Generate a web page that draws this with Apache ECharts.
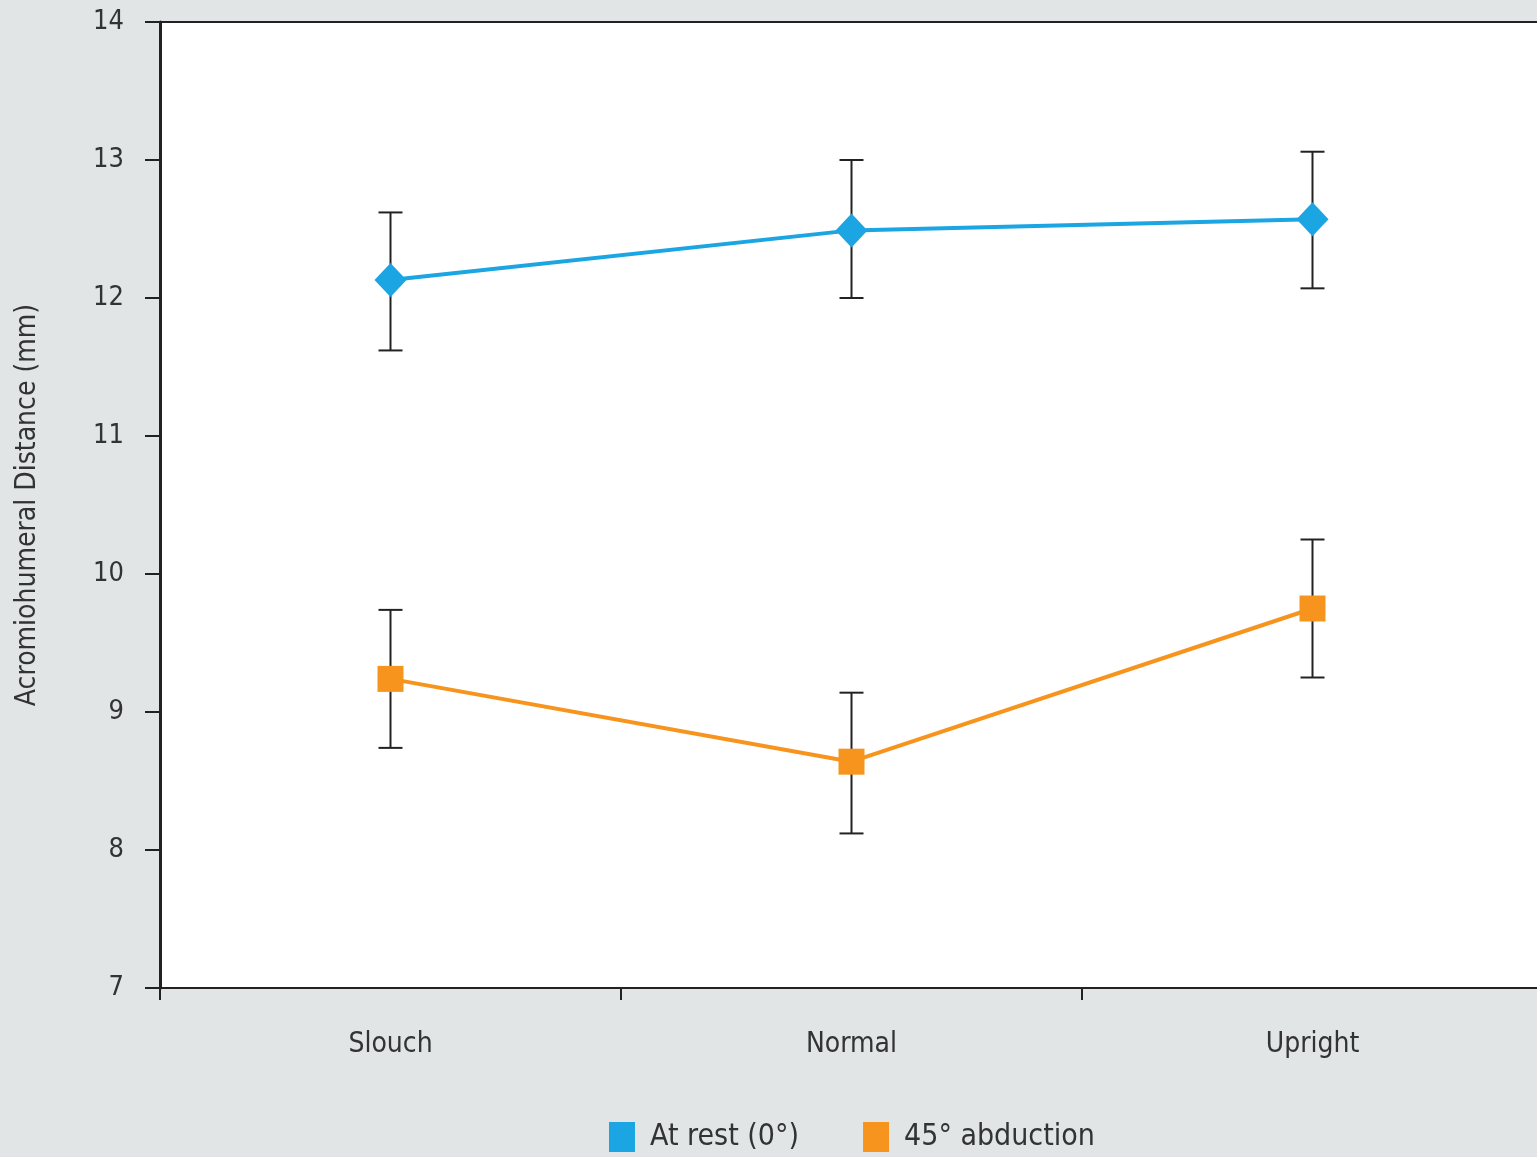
<!DOCTYPE html>
<html>
<head>
<meta charset="utf-8">
<script src="https://cdn.jsdelivr.net/npm/echarts@6/dist/echarts.min.js"></script>
<style>
html,body{margin:0;padding:0;background:#e1e5e6;}
#c{width:1537px;height:1157px;}
</style>
</head>
<body>
<div id="c"></div>
<script>
var categories = ['Slouch', 'Normal', 'Upright'];
var restMean = [12.13, 12.49, 12.57];
var restHigh = [12.62, 13.0, 13.06];
var restLow = [11.62, 12.0, 12.07];
var abdMean = [9.24, 8.64, 9.75];
var abdHigh = [9.74, 9.14, 10.25];
var abdLow = [8.74, 8.12, 9.25];
var seriesNames = ['At rest (0°)', '45° abduction'];
var yMin = 7, yMax = 14, yStep = 1;

var FONT = "'Liberation Sans Narrow','DejaVu Sans Condensed','Roboto Condensed',sans-serif";

function errData(low, high) {
  return categories.map(function (c, i) { return [i, low[i], high[i]]; });
}
function errRender(params, api) {
  var x = api.value(0);
  var lo = api.coord([x, api.value(1)]);
  var hi = api.coord([x, api.value(2)]);
  var w = 12;
  var st = { stroke: '#222', lineWidth: 2 };
  return {
    type: 'group',
    children: [
      { type: 'line', shape: { x1: lo[0], y1: lo[1], x2: hi[0], y2: hi[1] }, style: st },
      { type: 'line', shape: { x1: lo[0] - w, y1: lo[1], x2: lo[0] + w, y2: lo[1] }, style: st },
      { type: 'line', shape: { x1: hi[0] - w, y1: hi[1], x2: hi[0] + w, y2: hi[1] }, style: st }
    ]
  };
}

var chart = echarts.init(document.getElementById('c'));
chart.setOption({
  backgroundColor: '#e1e5e6',
  animation: false,
  textStyle: { fontFamily: FONT },
  grid: { left: 160, top: 22, width: 1383, height: 966, outerBoundsMode: 'none', containLabel: false,
          show: true, backgroundColor: '#ffffff', borderWidth: 0 },
  legend: {
    data: seriesNames,
    bottom: 0,
    left: 604,
    icon: 'rect',
    itemWidth: 26,
    itemHeight: 30,
    itemGap: 64,
    textStyle: { fontFamily: FONT, fontSize: 30, color: '#333', padding: [0, 0, 0, 10] }
  },
  xAxis: [{
    type: 'category',
    data: categories,
    boundaryGap: true,
    axisLine: { lineStyle: { color: '#222', width: 2 } },
    axisTick: { show: true, length: 12, lineStyle: { color: '#222', width: 2 } },
    axisLabel: { margin: 43, fontSize: 28, color: '#333', fontFamily: FONT },
    splitLine: { show: false }
  }, {
    type: 'category',
    data: categories,
    position: 'top',
    axisLine: { lineStyle: { color: '#222', width: 2 } },
    axisTick: { show: false },
    axisLabel: { show: false }
  }],
  yAxis: {
    type: 'value',
    min: yMin, max: yMax, interval: yStep,
    name: 'Acromiohumeral Distance (mm)',
    nameLocation: 'middle',
    nameGap: 118,
    nameTextStyle: { fontSize: 28, color: '#333', fontFamily: FONT },
    axisLine: { show: true, lineStyle: { color: '#222', width: 3 } },
    axisTick: { show: true, inside: false, length: 15, lineStyle: { color: '#222', width: 2 } },
    axisLabel: { margin: 36, fontSize: 27, color: '#333', fontFamily: FONT },
    splitLine: { show: false }
  },
  series: [
    {
      type: 'custom', name: 'errRest', renderItem: errRender, data: errData(restLow, restHigh),
      encode: { x: 0, y: [1, 2] }, z: 2, silent: true
    },
    {
      type: 'custom', name: 'errAbd', renderItem: errRender, data: errData(abdLow, abdHigh),
      encode: { x: 0, y: [1, 2] }, z: 2, silent: true
    },
    {
      name: seriesNames[0], type: 'line', data: restMean, z: 5,
      symbol: 'diamond', symbolSize: [32, 34],
      lineStyle: { color: '#1ba5e3', width: 4 },
      itemStyle: { color: '#1ba5e3' }
    },
    {
      name: seriesNames[1], type: 'line', data: abdMean, z: 5,
      symbol: 'rect', symbolSize: 26,
      lineStyle: { color: '#f7941d', width: 4 },
      itemStyle: { color: '#f7941d' }
    }
  ]
});
</script>
</body>
</html>
